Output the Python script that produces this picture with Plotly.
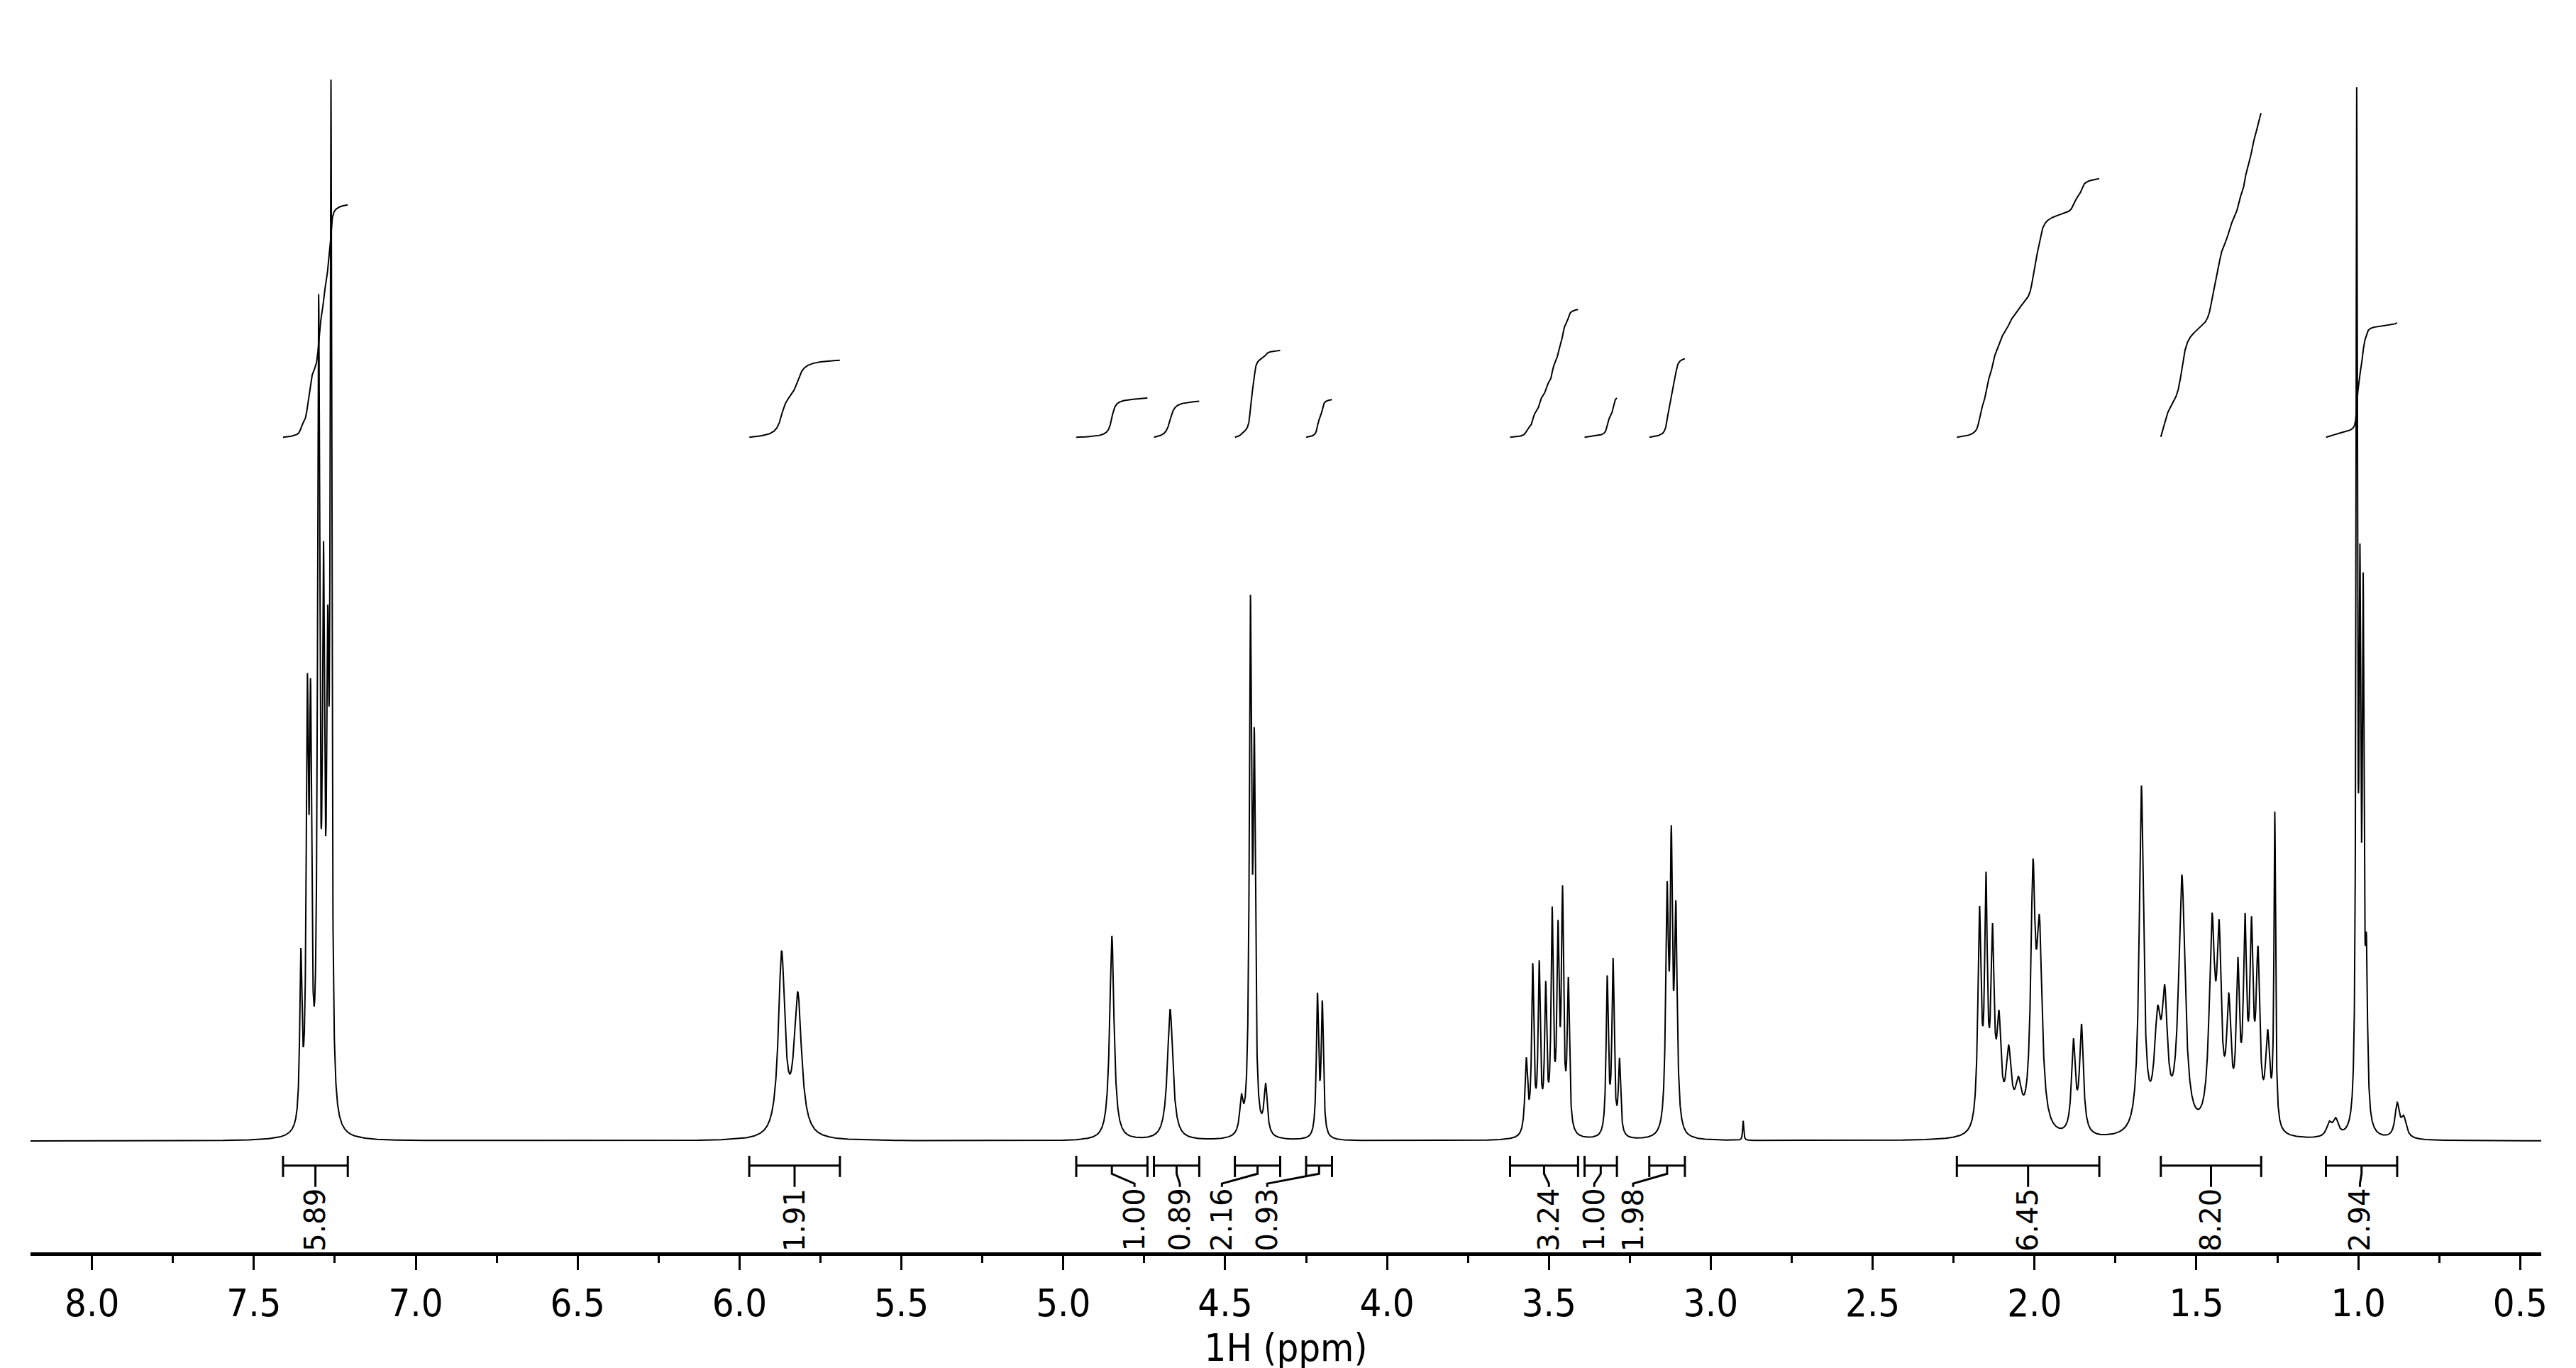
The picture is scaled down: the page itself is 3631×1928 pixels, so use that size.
import numpy as np
import plotly.graph_objects as go

# peak table: shift (ppm), height, half width (ppm)
pk_ppm = [7.355, 7.335, 7.325, 7.300, 7.285, 7.272, 7.262,
          5.870, 5.820,
          4.850, 4.670,
          4.450, 4.422, 4.410, 4.375,
          4.215, 4.200,
          3.570, 3.550, 3.530, 3.510, 3.490, 3.472, 3.458, 3.440,
          3.320, 3.302, 3.282,
          3.135, 3.122, 3.108,
          2.900,
          2.170, 2.150, 2.130, 2.110, 2.080, 2.050,
          2.005, 1.985,
          1.880, 1.855,
          1.670, 1.620, 1.598, 1.545, 1.452, 1.430, 1.400, 1.372, 1.350, 1.330, 1.310, 1.280, 1.258,
          1.090, 1.070,
          1.005, 0.995, 0.985, 0.975,
          0.880, 0.860]
pk_h = [100, 240, 230, 480, 300, 240, 600,
        110, 85,
        125, 80,
        20, 310, 220, 30,
        85, 80,
        45, 100, 100, 85, 130, 115, 140, 90,
        95, 105, 45,
        140, 160, 130,
        12,
        130, 140, 110, 60, 45, 25,
        145, 115,
        55, 65,
        210, 60, 70, 155, 120, 105, 70, 90, 115, 110, 100, 55, 190,
        8, 10,
        610, 300, 300, 90,
        20, 12]
pk_w = [0.004, 0.004, 0.004, 0.004, 0.004, 0.004, 0.003,
        0.012, 0.014,
        0.008, 0.010,
        0.006, 0.004, 0.004, 0.006,
        0.004, 0.004,
        0.005, 0.004, 0.004, 0.004, 0.004, 0.004, 0.004, 0.004,
        0.004, 0.004, 0.004,
        0.005, 0.004, 0.005,
        0.002,
        0.006, 0.005, 0.006, 0.008, 0.010, 0.012,
        0.008, 0.010,
        0.007, 0.007,
        0.008, 0.012, 0.010, 0.012, 0.010, 0.008, 0.008, 0.006, 0.006, 0.006, 0.007, 0.008, 0.003,
        0.010, 0.010,
        0.0025, 0.003, 0.003, 0.004,
        0.008, 0.010]

# integral regions: start, end (ppm), value, label position (ppm)
int_lo = [7.41, 5.97, 4.96, 4.72, 4.47, 4.25, 3.62, 3.39, 3.19, 2.24, 1.61, 1.10]
int_hi = [7.21, 5.69, 4.74, 4.58, 4.33, 4.17, 3.41, 3.29, 3.08, 1.80, 1.30, 0.88]
int_val = ["5.89", "1.91", "1.00", "0.89", "2.16", "0.93", "3.24", "1.00", "1.98", "6.45", "8.20", "2.94"]
int_lbl = [7.31, 5.83, 4.78, 4.64, 4.51, 4.37, 3.50, 3.36, 3.24, 2.02, 1.455, 0.995]
int_rise = [142, 47, 24, 22, 53, 23, 78, 24, 48, 158, 198, 70]
int_base = 430

x = np.linspace(8.19, 0.435, 24000)
y = np.zeros_like(x)
for p, h, w in zip(pk_ppm, pk_h, pk_w):
    y += h * w**2 / ((x - p)**2 + w**2)

fig = go.Figure()
fig.add_trace(go.Scatter(x=x, y=y, mode='lines', line=dict(color='black', width=2)))

bx, by = [], []
for lo, hi, rise, lb in zip(int_lo, int_hi, int_rise, int_lbl):
    m = (x <= lo) & (x >= hi)
    xs = x[m]
    cs = np.cumsum(y[m])
    cs = cs / cs[-1]
    fig.add_trace(go.Scatter(x=xs, y=int_base + rise * cs, mode='lines',
                             line=dict(color='black', width=2)))
    c = (lo + hi) / 2
    bx += [lo, lo, None, lo, hi, None, hi, hi, None, c, c, lb, lb, None]
    by += [-9, -22, None, -15, -15, None, -9, -22, None, -15, -20, -26, -28, None]
fig.add_trace(go.Scatter(x=bx, y=by, mode='lines', line=dict(color='black', width=3)))

for v, lb in zip(int_val, int_lbl):
    fig.add_annotation(x=lb, y=-28, text=v, textangle=-90, showarrow=False,
                       yanchor='top', xanchor='center',
                       font=dict(family='DejaVu Sans', size=40, color='black'))

fig.update_layout(
    width=3631, height=1928, showlegend=False,
    plot_bgcolor='white', paper_bgcolor='white',
    margin=dict(l=35, r=57, t=50, b=171),
    xaxis=dict(range=[8.19, 0.435], showgrid=False, zeroline=False,
               showline=True, linecolor='black', linewidth=5,
               ticks='outside', tickwidth=3, ticklen=20, tickcolor='black',
               tick0=0, dtick=0.5, tickformat='.1f',
               minor=dict(ticks='outside', ticklen=10, tickwidth=3, dtick=0.25, tickcolor='black'),
               tickfont=dict(family='DejaVu Sans Condensed', size=54, color='black'),
               title=dict(text='1H (ppm)', standoff=4,
                          font=dict(family='DejaVu Sans Condensed', size=54, color='black'))),
    yaxis=dict(range=[-68, 672], visible=False),
)
fig.write_html("out.html")
